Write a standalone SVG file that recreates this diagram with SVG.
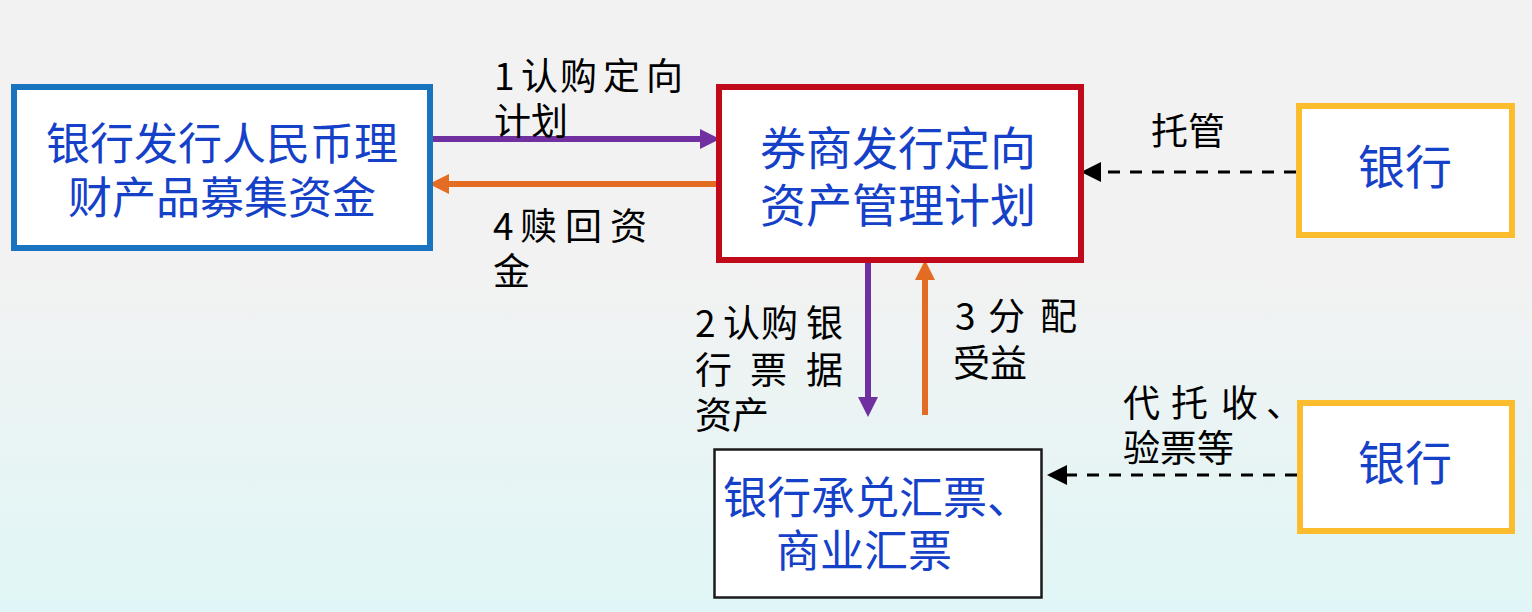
<svg xmlns="http://www.w3.org/2000/svg" width="1532" height="612" viewBox="0 0 1532 612">
<defs>
<linearGradient id="bg" x1="0" y1="0" x2="0" y2="1">
<stop offset="0" stop-color="#f2f2f2"/>
<stop offset="0.45" stop-color="#f2f2f2"/>
<stop offset="1" stop-color="#e0f6f6"/>
</linearGradient>
<marker id="ahP" markerUnits="userSpaceOnUse" markerWidth="20" markerHeight="20" refX="0" refY="9" orient="auto" viewBox="0 0 18 18"><path d="M0,0 L18,9 L0,18 Z" fill="#7030a0"/></marker>
<marker id="ahO" markerUnits="userSpaceOnUse" markerWidth="20" markerHeight="20" refX="0" refY="9" orient="auto" viewBox="0 0 18 18"><path d="M0,0 L18,9 L0,18 Z" fill="#e46c22"/></marker>
<marker id="ahK" markerUnits="userSpaceOnUse" markerWidth="20" markerHeight="20" refX="0" refY="9" orient="auto" viewBox="0 0 18 18"><path d="M0,0 L18,9 L0,18 Z" fill="#000"/></marker>
<style>
.node{fill:#fff}
.blue{stroke:#1874bf;stroke-width:6}
.red{stroke:#c00a1a;stroke-width:6}
.gold{stroke:#fbbd2e;stroke-width:6}
.thin{stroke:#1a1a1a;stroke-width:2.5}
.nt{font-family:"Noto Sans CJK SC","Noto Sans CJK TC",sans-serif;fill:#1540c8}
.lb{font-family:"Noto Sans CJK SC","Noto Sans CJK TC",sans-serif;fill:#000;font-size:37px}
.p{stroke:#7030a0;stroke-width:6;fill:none}
.o{stroke:#e46c22;stroke-width:6;fill:none}
.d{stroke:#000;stroke-width:3;stroke-dasharray:12 10;fill:none}
</style>
</defs>
<rect x="0" y="0" width="1532" height="612" fill="url(#bg)"/>

<g id="connectors">
<line class="p" x1="433" y1="139" x2="700" y2="139" marker-end="url(#ahP)"/>
<line class="o" x1="717" y1="184" x2="449" y2="184" marker-end="url(#ahO)"/>
<line class="p" x1="868" y1="263" x2="868" y2="397" marker-end="url(#ahP)"/>
<line class="o" x1="925" y1="415" x2="925" y2="280" marker-end="url(#ahO)"/>
<line class="d" x1="1296" y1="172" x2="1101" y2="172" marker-end="url(#ahK)"/>
<line class="d" x1="1297" y1="475" x2="1067" y2="475" marker-end="url(#ahK)"/>
</g>

<g id="labels">
<text class="lb" y="90"><tspan x="494">1</tspan><tspan x="521">认</tspan><tspan x="560">购</tspan><tspan x="603">定</tspan><tspan x="646">向</tspan></text>
<text class="lb" x="494" y="135">计划</text>
<text class="lb" y="240"><tspan x="493">4</tspan><tspan x="520">赎</tspan><tspan x="565">回</tspan><tspan x="610">资</tspan></text>
<text class="lb" x="493" y="285">金</text>
<text class="lb" y="337"><tspan x="695">2</tspan><tspan x="723">认</tspan><tspan x="761">购</tspan><tspan x="806">银</tspan></text>
<text class="lb" y="384"><tspan x="695">行</tspan><tspan x="750">票</tspan><tspan x="806">据</tspan></text>
<text class="lb" x="695" y="429">资产</text>
<text class="lb" y="330"><tspan x="955">3</tspan><tspan x="988">分</tspan><tspan x="1040">配</tspan></text>
<text class="lb" x="953" y="377">受益</text>
<text class="lb" x="1151" y="145">托管</text>
<text class="lb" y="417"><tspan x="1123">代</tspan><tspan x="1171">托</tspan><tspan x="1221">收</tspan><tspan x="1266">、</tspan></text>
<text class="lb" x="1123" y="462">验票等</text>
</g>

<g id="node-bank-wmp">
<rect class="node blue" x="14" y="87" width="416" height="161"/>
<text class="nt" font-size="44" text-anchor="middle" x="222" y="160">银行发行人民币理</text>
<text class="nt" font-size="44" text-anchor="middle" x="222" y="214">财产品募集资金</text>
</g>

<g id="node-broker-plan">
<rect class="node red" x="719" y="87" width="362" height="173"/>
<text class="nt" font-size="46" text-anchor="middle" x="898" y="165">券商发行定向</text>
<text class="nt" font-size="46" text-anchor="middle" x="898" y="222">资产管理计划</text>
</g>

<g id="node-bank-custody">
<rect class="node gold" x="1299" y="106" width="213" height="129"/>
<text class="nt" font-size="47" text-anchor="middle" x="1405" y="184">银行</text>
</g>

<g id="node-bank-collect">
<rect class="node gold" x="1300" y="403" width="212" height="128"/>
<text class="nt" font-size="47" text-anchor="middle" x="1405" y="480">银行</text>
</g>

<g id="node-bills">
<rect class="node thin" x="714.5" y="449.5" width="327" height="148"/>
<text class="nt" font-size="44" x="723" y="514">银行承兑汇票、</text>
<text class="nt" font-size="44" x="776" y="567">商业汇票</text>
</g>
</svg>
